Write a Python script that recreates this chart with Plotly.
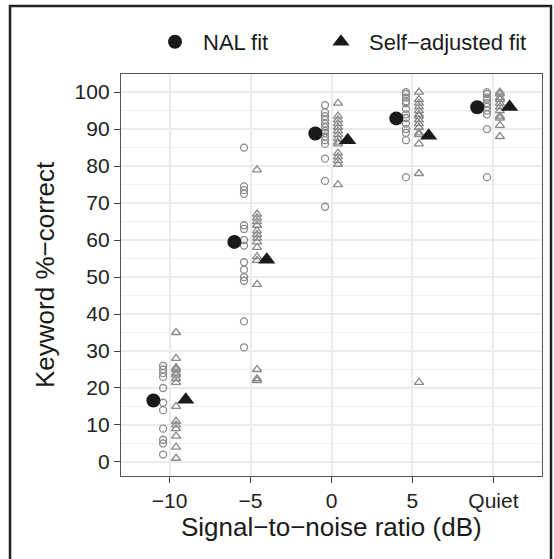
import plotly.graph_objects as go

# ---- data -------------------------------------------------------------
snr_pos = [-10, -5, 0, 5, 10]
snr_labels = ["\u221210", "\u22125", "0", "5", "Quiet"]

nal_m10 = [26, 25, 24, 23, 20, 16, 14, 9, 6, 5, 2]
nal_m5 = [85, 74.5, 73.5, 72.5, 64, 63, 60, 58.5, 54, 52, 50, 49, 38, 31]
nal_0 = [96.5, 94.5, 93.5, 92.5, 91.5, 90.5, 89.5, 89, 88, 87, 86, 82, 76, 69]
nal_5 = [100, 99.5, 98.5, 97.5, 97, 95.5, 94, 93, 91.5, 90, 89, 87, 77]
nal_q = [100, 99.5, 98.5, 98, 97, 96, 95, 94, 90, 77]

self_m10 = [35, 28, 25.5, 25, 24, 23.5, 22.5, 21.5, 15, 11, 10, 9, 7, 4, 1]
self_m5 = [79, 67, 66, 65, 64, 62.5, 61.5, 60.5, 59.5, 58, 55.5, 54.5, 48, 25, 22.5, 22]
self_0 = [97, 93.5, 92.5, 91.5, 90.5, 89.5, 88.5, 87.5, 86.5, 86, 83.5, 82.5, 81.5, 80.5, 75]
self_5 = [100, 98, 97, 96, 95, 94, 93.5, 92.5, 91.5, 90.5, 89, 88.5, 86, 78, 21.5]
self_q = [100, 99.5, 98.5, 98, 97, 96, 95, 93.5, 93, 91, 88]

nal_mean = [16.6, 59.5, 88.8, 92.9, 95.9]
self_mean = [16.8, 54.7, 87.0, 88.2, 96.0]

nal_indiv = [nal_m10, nal_m5, nal_0, nal_5, nal_q]
self_indiv = [self_m10, self_m5, self_0, self_5, self_q]

# ---- styling ----------------------------------------------------------
FONT = "Liberation Sans, Arial, Helvetica, sans-serif"
GREY = "#8a8a8a"
DARK = "#1a1a1a"
IND_OFF = 0.4
MEAN_OFF = 1.0

fig = go.Figure()

def flat(groups, off):
    xs, ys = [], []
    for p, vals in zip(snr_pos, groups):
        xs += [p + off] * len(vals)
        ys += vals
    return xs, ys

x, y = flat(nal_indiv, -IND_OFF)
fig.add_trace(go.Scatter(x=x, y=y, mode="markers", showlegend=False,
                         marker=dict(symbol="circle-open", size=7, color=GREY,
                                     line=dict(width=1.3, color=GREY))))
x, y = flat(self_indiv, IND_OFF)
fig.add_trace(go.Scatter(x=x, y=y, mode="markers", showlegend=False,
                         marker=dict(symbol="triangle-up-open", size=8, color=GREY,
                                     line=dict(width=1.3, color=GREY))))

fig.add_trace(go.Scatter(x=[p - MEAN_OFF for p in snr_pos], y=nal_mean, mode="markers",
                         name="NAL fit", legend="legend",
                         marker=dict(symbol="circle", size=14, color=DARK)))
fig.add_trace(go.Scatter(x=[p + MEAN_OFF for p in snr_pos], y=self_mean, mode="markers",
                         name="Self\u2212adjusted fit", legend="legend2",
                         marker=dict(symbol="triangle-up", size=15, color=DARK)))

W, H = 554, 559
L, R, T, B = 121, 12, 74, 83
pw, ph = W - L - R, H - T - B

def px(xp):
    return (xp - L) / pw

def py(yp):
    return (H - B - yp) / ph

TICKF = dict(size=21, color="#222", family=FONT)
LEGF = dict(size=22, color=DARK, family=FONT)

fig.update_layout(
    width=W, height=H,
    margin=dict(l=L, r=R, t=T, b=B, pad=0),
    paper_bgcolor="white", plot_bgcolor="white",
    font=dict(family=FONT, color=DARK),
    legend=dict(orientation="h", x=px(147), y=py(42), xanchor="left", yanchor="middle",
                font=LEGF, itemwidth=46, bgcolor="rgba(0,0,0,0)"),
    legend2=dict(orientation="h", x=px(313), y=py(42), xanchor="left", yanchor="middle",
                 font=LEGF, itemwidth=46, bgcolor="rgba(0,0,0,0)"),
    xaxis=dict(range=[-13, 13], tickvals=snr_pos, ticktext=snr_labels,
               showgrid=True, gridcolor="#ebebeb", gridwidth=1.8, zeroline=False,
               ticks="outside", ticklen=6, tickwidth=1.2, tickcolor="#444",
               showline=True, mirror=True, linecolor="#555", linewidth=1.3,
               tickfont=TICKF),
    yaxis=dict(range=[-3.8, 104.9], tickvals=list(range(0, 101, 10)),
               showgrid=True, gridcolor="#ebebeb", gridwidth=1.8, zeroline=False,
               minor=dict(dtick=5, tick0=5, showgrid=True, gridcolor="#f2f2f2", gridwidth=1),
               ticks="outside", ticklen=6, tickwidth=1.2, tickcolor="#444",
               showline=True, mirror=True, linecolor="#555", linewidth=1.3,
               tickfont=TICKF),
    annotations=[
        dict(text="Keyword %\u2212correct", xref="paper", yref="paper",
             x=px(45), y=0.5, xanchor="center", yanchor="middle", textangle=-90,
             showarrow=False, font=dict(size=26, color=DARK, family=FONT)),
        dict(text="Signal\u2212to\u2212noise ratio (dB)", xref="paper", yref="paper",
             x=0.5, y=py(527), xanchor="center", yanchor="middle",
             showarrow=False, font=dict(size=26, color=DARK, family=FONT)),
    ],
    shapes=[
        dict(type="rect", xref="paper", yref="paper",
             x0=px(10), x1=px(551), y0=py(562), y1=py(6),
             line=dict(color="#222", width=2.5), fillcolor="rgba(0,0,0,0)", layer="above"),
    ],
)

fig.write_html("out.html")
